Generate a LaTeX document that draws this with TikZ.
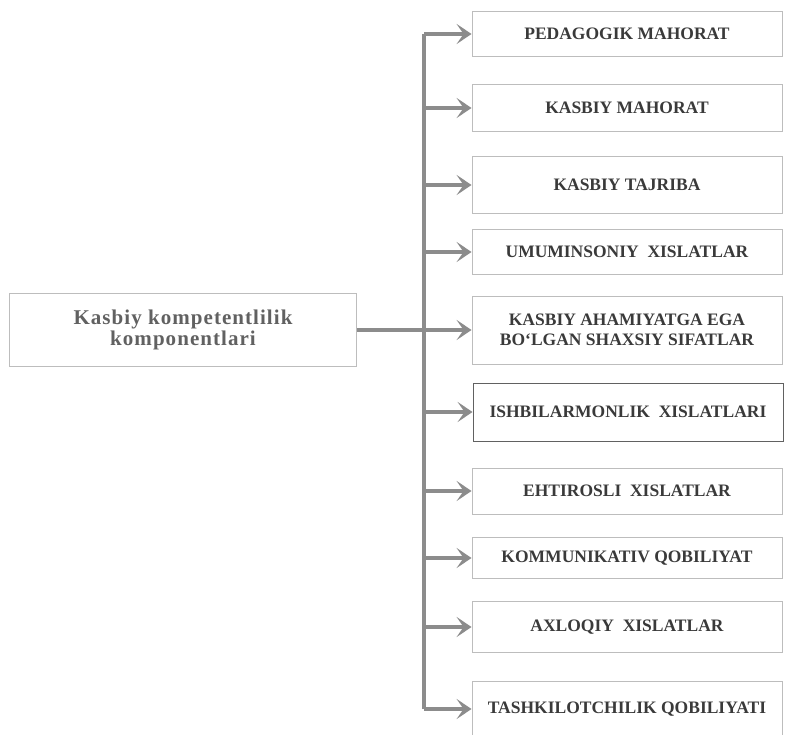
\documentclass[tikz,border=0pt]{standalone}
\usepackage{fontspec}
\setmainfont{Liberation Serif}
\usetikzlibrary{arrows.meta}
\definecolor{lineGray}{HTML}{8C8C8C}
\definecolor{frameGray}{HTML}{BDBDBD}
\definecolor{textGray}{HTML}{3A3A3A}
\begin{document}
\begin{tikzpicture}[
            x=1pt, y=-1pt,
            mainNode/.style={rectangle, draw=frameGray, thick, text=textGray!80,
            minimum width=347pt, minimum height=73pt, align=center,
            font=\addfontfeature{LetterSpace=5}\bfseries\fontsize{21}{21}\selectfont},
            itemNode/.style={rectangle, draw=frameGray, thick, text=textGray,
            minimum width=310pt, align=center,
            font=\bfseries\fontsize{17.5}{20}\selectfont},
            line/.style={lineGray, line width=3.5pt},
            arrow/.style={line, -{Stealth[length=15pt, width=20pt, inset=7pt]}},
        ]
        \useasboundingbox (0,0) rectangle (785,735);
        \node[mainNode] (kompetent) at (183,330) {Kasbiy kompetentlilik\\komponentlari};
        \coordinate (spine) at (424,0);
        \node[itemNode, minimum height=45pt] (pedagogik)      at (627,34)  {PEDAGOGIK MAHORAT};
        \node[itemNode, minimum height=47pt] (kasbiyMahorat)  at (627,108) {KASBIY MAHORAT};
        \node[itemNode, minimum height=57pt] (tajriba)        at (627,185) {KASBIY TAJRIBA};
        \node[itemNode, minimum height=45pt] (umuminsoniy)    at (627,252) {UMUMINSONIY\ \ XISLATLAR};
        \node[itemNode, minimum height=68pt] (ahamiyat)       at (627,330) {KASBIY AHAMIYATGA EGA\\BO‘LGAN SHAXSIY SIFATLAR};
        \node[itemNode, minimum height=58pt, draw=textGray!80] (ishbilarmon) at (628,412) {ISHBILARMONLIK\ \ XISLATLARI};
        \node[itemNode, minimum height=46pt] (ehtirosli)      at (627,491) {EHTIROSLI\ \ XISLATLAR};
        \node[itemNode, minimum height=41pt] (kommunikativ)   at (627,558) {KOMMUNIKATIV QOBILIYAT};
        \node[itemNode, minimum height=51pt] (axloqiy)        at (627,627) {AXLOQIY\ \ XISLATLAR};
        \node[itemNode, minimum height=56pt] (tashkilot)      at (627,709) {TASHKILOTCHILIK QOBILIYATI};
        \draw[line] (pedagogik.west -| spine) -- (tashkilot.west -| spine);
        \draw[arrow] (kompetent.east) -- (ahamiyat.west);
        \draw[arrow] (pedagogik.west -| spine) -- (pedagogik.west);
        \draw[arrow] (kasbiyMahorat.west -| spine) -- (kasbiyMahorat.west);
        \draw[arrow] (tajriba.west -| spine) -- (tajriba.west);
        \draw[arrow] (umuminsoniy.west -| spine) -- (umuminsoniy.west);
        \draw[arrow] (ishbilarmon.west -| spine) -- (ishbilarmon.west);
        \draw[arrow] (ehtirosli.west -| spine) -- (ehtirosli.west);
        \draw[arrow] (kommunikativ.west -| spine) -- (kommunikativ.west);
        \draw[arrow] (axloqiy.west -| spine) -- (axloqiy.west);
        \draw[arrow] (tashkilot.west -| spine) -- (tashkilot.west);
    \end{tikzpicture}
\end{document}
